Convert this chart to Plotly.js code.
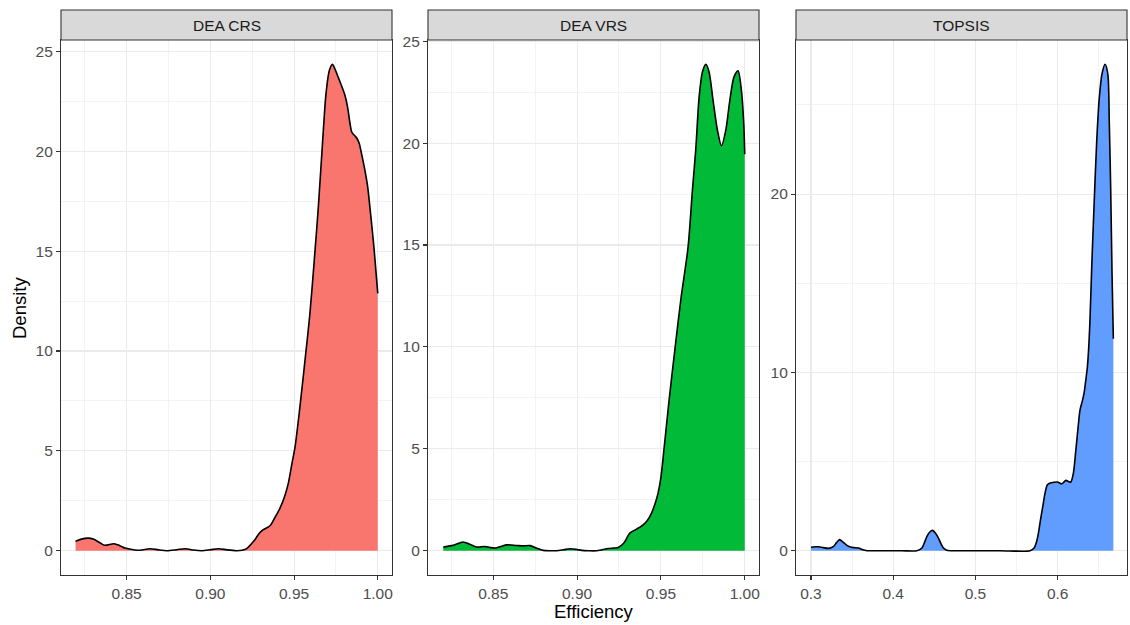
<!DOCTYPE html>
<html>
<head>
<meta charset="utf-8">
<script src="https://cdn.plot.ly/plotly-3.0.1.min.js"></script>
<style>html,body{margin:0;padding:0;background:#fff;}#chart{width:1130px;height:625px;}</style>
</head>
<body>
<div id="chart"></div>
<script>
// ---- data ----
const panelNames = ["DEA CRS", "DEA VRS", "TOPSIS"];
const panelColors = ["#F8766D", "#00BA38", "#619CFF"];

const crsX = [0.8195,0.8230,0.8271,0.8300,0.8340,0.8370,0.8424,0.8460,0.8490,0.8540,0.8580,0.8640,0.8690,0.8740,0.8800,0.8850,0.8900,0.8950,0.9000,0.9050,0.9100,0.9157,0.9190,0.9217,0.9240,0.9266,0.9290,0.9316,0.9356,0.9385,0.9416,0.9445,0.9466,0.9486,0.9506,0.9535,0.9565,0.9595,0.9625,0.9645,0.9671,0.9691,0.9711,0.9729,0.9745,0.9764,0.9785,0.9804,0.9820,0.9834,0.9845,0.9860,0.9875,0.9889,0.9905,0.9923,0.9940,0.9953,0.9977,1.0000];
const crsY = [0.47,0.58,0.63,0.58,0.40,0.27,0.35,0.25,0.13,0.05,0.02,0.10,0.04,0.00,0.05,0.10,0.03,0.00,0.05,0.10,0.04,0.00,0.02,0.10,0.30,0.55,0.85,1.05,1.25,1.65,2.13,2.75,3.38,4.30,5.20,7.20,9.50,11.90,15.00,17.20,20.55,22.90,24.05,24.35,24.10,23.70,23.25,22.80,22.20,21.40,20.95,20.80,20.65,20.40,19.80,19.05,18.20,17.20,15.20,12.88];

const vrsX = [0.8202,0.8252,0.8290,0.8321,0.8360,0.8401,0.8450,0.8480,0.8510,0.8550,0.8580,0.8639,0.8680,0.8719,0.8760,0.8798,0.8840,0.8878,0.8920,0.8957,0.9000,0.9027,0.9070,0.9116,0.9150,0.9185,0.9220,0.9245,0.9279,0.9315,0.9355,0.9394,0.9420,0.9444,0.9465,0.9483,0.9500,0.9518,0.9549,0.9583,0.9620,0.9662,0.9688,0.9708,0.9728,0.9748,0.9768,0.9787,0.9811,0.9837,0.9861,0.9887,0.9911,0.9936,0.9960,0.9980,0.9994,1.0000];
const vrsY = [0.18,0.25,0.35,0.43,0.32,0.18,0.21,0.16,0.13,0.22,0.29,0.26,0.24,0.25,0.12,0.02,0.00,0.00,0.05,0.10,0.06,0.02,0.00,0.00,0.05,0.11,0.13,0.16,0.38,0.87,1.06,1.27,1.50,1.85,2.30,2.83,3.60,4.95,7.40,9.85,12.40,14.90,17.70,19.70,22.27,23.50,23.87,23.50,22.10,20.64,19.87,20.64,22.10,23.25,23.55,22.60,20.97,19.45];

const topX = [0.3000,0.3050,0.3093,0.3150,0.3214,0.3275,0.3310,0.3348,0.3390,0.3437,0.3480,0.3518,0.3578,0.3630,0.3680,0.3900,0.4100,0.4288,0.4349,0.4380,0.4410,0.4445,0.4478,0.4515,0.4550,0.4580,0.4611,0.4650,0.4693,0.5000,0.5300,0.5665,0.5713,0.5740,0.5766,0.5790,0.5819,0.5845,0.5875,0.5910,0.5948,0.5997,0.6050,0.6075,0.6102,0.6130,0.6159,0.6191,0.6220,0.6250,0.6272,0.6300,0.6321,0.6340,0.6361,0.6380,0.6394,0.6414,0.6442,0.6475,0.6507,0.6540,0.6576,0.6609,0.6628,0.6645,0.6661,0.6677];
const topY = [0.19,0.22,0.22,0.17,0.13,0.24,0.45,0.62,0.48,0.30,0.20,0.17,0.15,0.05,0.00,0.00,0.00,0.00,0.15,0.45,0.80,1.05,1.14,0.98,0.71,0.40,0.15,0.03,0.00,0.00,0.00,0.00,0.15,0.45,0.99,1.70,2.48,3.20,3.70,3.80,3.83,3.85,3.75,3.85,3.94,3.88,3.85,4.35,5.60,7.00,7.90,8.40,8.83,9.50,10.30,11.60,13.10,15.90,19.30,23.00,25.45,26.76,27.28,26.76,23.96,20.20,15.56,11.88];

const effTicks = [0.85, 0.90, 0.95, 1.00];
const effTickLabels = ["0.85", "0.90", "0.95", "1.00"];
const topTicks = [0.3, 0.4, 0.5, 0.6];
const topTickLabels = ["0.3", "0.4", "0.5", "0.6"];
const densTicks = [0, 5, 10, 15, 20, 25];
const topDensTicks = [0, 10, 20];
const xTitle = "Efficiency";
const yTitle = "Density";

// ---- layout geometry ----
const W = 1130, H = 625;
const fx = p => p / W;
const fy = p => 1 - p / H;
const panelsPx = [[61, 392], [428, 759], [796, 1127]];
const plotTop = 40, plotBottom = 575, stripTop = 10;
const font = "Liberation Sans, Arial, sans-serif";

const xs = [crsX, vrsX, topX];
const ys = [crsY, vrsY, topY];
const traces = xs.map((x, i) => ({
  x: x, y: ys[i], type: "scatter", mode: "lines",
  fill: "tozeroy", fillcolor: panelColors[i],
  line: {color: "#000000", width: 1.6, shape: "spline", smoothing: 0.8},
  xaxis: i === 0 ? "x" : "x" + (i + 1),
  yaxis: i === 0 ? "y" : "y" + (i + 1),
  hoverinfo: "skip", showlegend: false
}));

function xAxis(i, range, tv, tt, minorD) {
  return {
    domain: [fx(panelsPx[i][0]), fx(panelsPx[i][1])],
    anchor: i === 0 ? "y" : "y" + (i + 1),
    range: range, tickvals: tv, ticktext: tt,
    showline: true, mirror: true, linecolor: "#333333", linewidth: 1.1,
    ticks: "outside", ticklen: 4, tickcolor: "#333333", tickwidth: 1.1,
    showgrid: true, gridcolor: "#EBEBEB", gridwidth: 1.1, zeroline: false,
    minor: {dtick: minorD, tick0: tv[0] - minorD, showgrid: true, gridcolor: "#EBEBEB", gridwidth: 0.6, ticks: ""},
    tickfont: {family: font, size: 15.5, color: "#4D4D4D"}
  };
}
function yAxis(i, range, tv, minorD) {
  return {
    domain: [fy(plotBottom), fy(plotTop)],
    anchor: i === 0 ? "x" : "x" + (i + 1),
    range: range, tickvals: tv, ticktext: tv.map(String),
    showline: true, mirror: true, linecolor: "#333333", linewidth: 1.1,
    ticks: "outside", ticklen: 4, tickcolor: "#333333", tickwidth: 1.1,
    showgrid: true, gridcolor: "#EBEBEB", gridwidth: 1.1, zeroline: false,
    minor: {dtick: minorD, tick0: tv[0] - minorD, showgrid: true, gridcolor: "#EBEBEB", gridwidth: 0.6, ticks: ""},
    tickfont: {family: font, size: 15.5, color: "#4D4D4D"}
  };
}

const shapes = panelsPx.map(p => ({
  type: "rect", xref: "paper", yref: "paper",
  x0: fx(p[0]), x1: fx(p[1]), y0: fy(plotTop), y1: fy(stripTop),
  fillcolor: "#D9D9D9", line: {color: "#333333", width: 1.1}, layer: "above"
}));
const annotations = panelsPx.map((p, i) => ({
  xref: "paper", yref: "paper", x: fx((p[0] + p[1]) / 2), y: fy((plotTop + stripTop) / 2),
  text: panelNames[i], showarrow: false, xanchor: "center", yanchor: "middle",
  font: {family: font, size: 15.5, color: "#1A1A1A"}
}));
annotations.push({
  xref: "paper", yref: "paper", x: fx(594), y: fy(611), text: xTitle, showarrow: false,
  xanchor: "center", yanchor: "middle", font: {family: font, size: 18.5, color: "#000000"}
});
annotations.push({
  xref: "paper", yref: "paper", x: fx(19), y: fy(308), text: yTitle, showarrow: false, textangle: -90,
  xanchor: "center", yanchor: "middle", font: {family: font, size: 18.5, color: "#000000"}
});

const layout = {
  width: W, height: H,
  margin: {l: 0, r: 0, t: 0, b: 0},
  paper_bgcolor: "#FFFFFF", plot_bgcolor: "#FFFFFF",
  showlegend: false,
  xaxis: xAxis(0, [0.8108, 1.0085], effTicks, effTickLabels, 0.025),
  xaxis2: xAxis(1, [0.8111, 1.0085], effTicks, effTickLabels, 0.025),
  xaxis3: xAxis(2, [0.2818, 0.6843], topTicks, topTickLabels, 0.05),
  yaxis: yAxis(0, [-1.2175, 25.57], densTicks, 2.5),
  yaxis2: yAxis(1, [-1.19, 25.06], densTicks, 2.5),
  yaxis3: yAxis(2, [-1.364, 28.64], topDensTicks, 5),
  shapes: shapes,
  annotations: annotations
};

Plotly.newPlot("chart", traces, layout, {staticPlot: true, displayModeBar: false});
</script>
</body>
</html>
